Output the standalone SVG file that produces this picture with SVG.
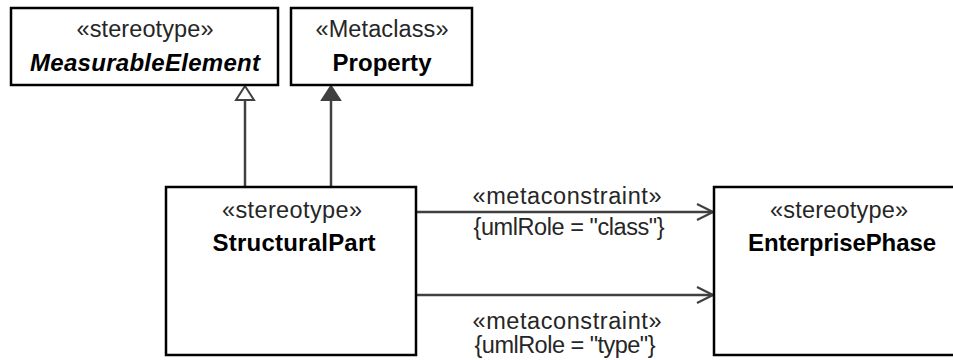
<svg xmlns="http://www.w3.org/2000/svg" width="953" height="360" viewBox="0 0 953 360">
<style>
.box{fill:#fff;stroke:#000;stroke-width:2.5}
.st{font-family:"Liberation Sans",Arial,sans-serif;font-size:23.5px;fill:#262626;text-anchor:middle}
.nm{font-family:"Liberation Sans",Arial,sans-serif;font-size:24px;font-weight:bold;fill:#000;text-anchor:middle}
.lb{font-family:"Liberation Sans",Arial,sans-serif;font-size:23.5px;fill:#262626;text-anchor:middle}
.ln{fill:none;stroke:#404040;stroke-width:2.5}
</style>
<defs>
<marker id="open" viewBox="0 0 20 20" refX="18" refY="10" markerWidth="20" markerHeight="20" markerUnits="userSpaceOnUse" orient="auto">
<path d="M2,2 L18,10 L2,18" fill="none" stroke="#404040" stroke-width="2.2"/>
</marker>
</defs>
<g id="connectors">
<line class="ln" x1="245" y1="186" x2="245" y2="100"/>
<polygon points="245,86 236,100 254,100" fill="#fff" stroke="#404040" stroke-width="2"/>
<line class="ln" x1="331" y1="186" x2="331" y2="100"/>
<polygon points="331,86 322,100 340,100" fill="#404040" stroke="#404040" stroke-width="2"/>
<line class="ln" x1="416" y1="212" x2="713" y2="212" marker-end="url(#open)"/>
<line class="ln" x1="416" y1="295" x2="713" y2="295" marker-end="url(#open)"/>
<text class="lb" x="567" y="204" textLength="189">«metaconstraint»</text>
<text class="lb" x="569" y="235" textLength="191">{umlRole = "class"}</text>
<text class="lb" x="567" y="329" textLength="189">«metaconstraint»</text>
<text class="lb" x="565" y="353" textLength="181">{umlRole = "type"}</text>
</g>
<g id="MeasurableElement">
<rect class="box" x="11" y="8" width="267" height="77"/>
<text class="st" x="145" y="37" textLength="137">«stereotype»</text>
<text class="nm" x="145" y="71" font-style="italic" textLength="230">MeasurableElement</text>
</g>
<g id="Property">
<rect class="box" x="291" y="8" width="181" height="77"/>
<text class="st" x="382" y="37" textLength="133">«Metaclass»</text>
<text class="nm" x="382" y="71" textLength="99">Property</text>
</g>
<g id="StructuralPart">
<rect class="box" x="166" y="187" width="250" height="168"/>
<text class="st" x="292" y="218" textLength="140">«stereotype»</text>
<text class="nm" x="294" y="251" textLength="163">StructuralPart</text>
</g>
<g id="EnterprisePhase">
<rect class="box" x="714" y="187" width="250" height="168"/>
<text class="st" x="839" y="218" textLength="138">«stereotype»</text>
<text class="nm" x="842" y="251" textLength="188">EnterprisePhase</text>
</g>
</svg>
